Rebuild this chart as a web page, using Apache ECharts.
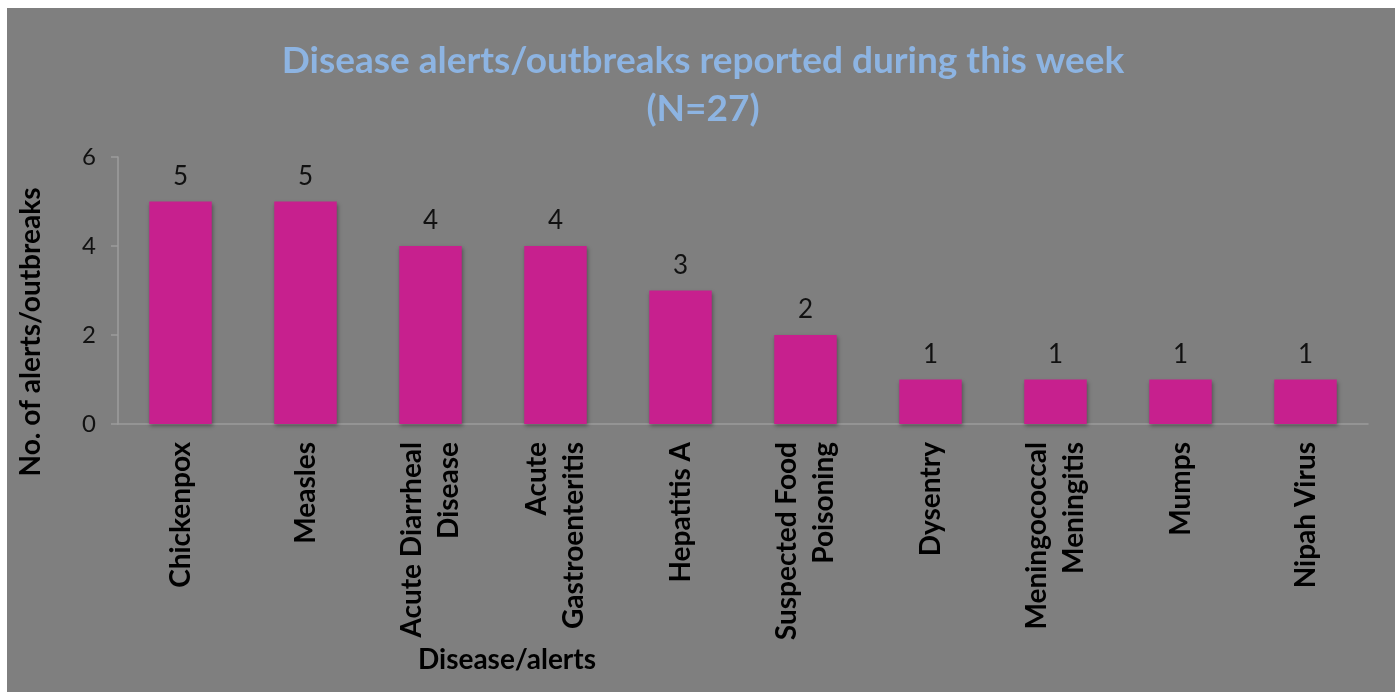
<!DOCTYPE html>
<html>
<head>
<meta charset="utf-8">
<script src="https://cdn.jsdelivr.net/npm/echarts@6/dist/echarts.min.js"></script>
<style>
  html, body { margin: 0; padding: 0; background: #ffffff; }
  #chart { position: absolute; left: 7px; top: 8px; width: 1388px; height: 684px; }
</style>
</head>
<body>
<div id="chart"></div>
<script>
const categories = ['Chickenpox', 'Measles', 'Acute Diarrheal\nDisease', 'Acute\nGastroenteritis', 'Hepatitis A', 'Suspected Food\nPoisoning', 'Dysentry', 'Meningococcal\nMeningitis', 'Mumps', 'Nipah Virus'];
const alertCounts = [5, 5, 4, 4, 3, 2, 1, 1, 1, 1];
const yTicks = [0, 2, 4, 6];
const titleText = 'Disease alerts/outbreaks reported during this week\n(N=27)';
const yAxisTitle = 'No. of alerts/outbreaks';
const xAxisTitle = 'Disease/alerts';

const chart = echarts.init(document.getElementById('chart'));
const FONT = 'Lato, "Open Sans", sans-serif';
chart.setOption({
  backgroundColor: '#7f7f7f',
  animation: false,
  title: {
    text: titleText,
    left: 691,
    top: 24,
    textAlign: 'center',
    textStyle: { color: '#8db4e2', fontFamily: FONT, fontWeight: 'bold', fontSize: 37, lineHeight: 48, align: 'center' }
  },
  grid: { left: 111, right: 27, top: 149, bottom: 268, containLabel: false },
  xAxis: {
    type: 'category',
    data: categories,
    axisLine: { show: true, lineStyle: { color: '#9c9c9c', width: 1.5 } },
    axisTick: { show: false },
    axisLabel: {
      rotate: 90,
      interval: 0,
      margin: 18,
      color: '#000',
      fontFamily: FONT,
      fontWeight: 'bold',
      fontSize: 28,
      lineHeight: 37,
      align: 'right',
      verticalAlign: 'middle'
    }
  },
  yAxis: {
    type: 'value',
    min: yTicks[0],
    max: yTicks[yTicks.length - 1],
    interval: 2,
    splitLine: { show: false },
    axisLine: { show: true, lineStyle: { color: '#9c9c9c', width: 1.5 } },
    axisTick: { show: true, length: 7, lineStyle: { color: '#9c9c9c', width: 1.5 } },
    axisLabel: { color: '#111', fontFamily: FONT, fontSize: 24, margin: 22 }
  },
  series: [{
    type: 'bar',
    data: alertCounts,
    barWidth: '50%',
    itemStyle: {
      color: '#c7208e',
      shadowColor: 'rgba(0,0,0,0.35)',
      shadowBlur: 4,
      shadowOffsetX: 1,
      shadowOffsetY: 2
    },
    label: {
      show: true,
      position: 'top',
      distance: 12,
      color: '#111',
      fontFamily: FONT,
      fontSize: 26
    }
  }],
  graphic: [
    {
      type: 'text',
      x: 24, y: 324,
      rotation: Math.PI / 2,
      style: {
        text: yAxisTitle,
        fill: '#000',
        font: 'bold 28px ' + FONT,
        align: 'center',
        verticalAlign: 'middle'
      }
    },
    {
      type: 'text',
      x: 500, y: 652,
      style: {
        text: xAxisTitle,
        fill: '#000',
        font: 'bold 28px ' + FONT,
        align: 'center',
        verticalAlign: 'middle'
      }
    }
  ]
});
</script>
</body>
</html>
